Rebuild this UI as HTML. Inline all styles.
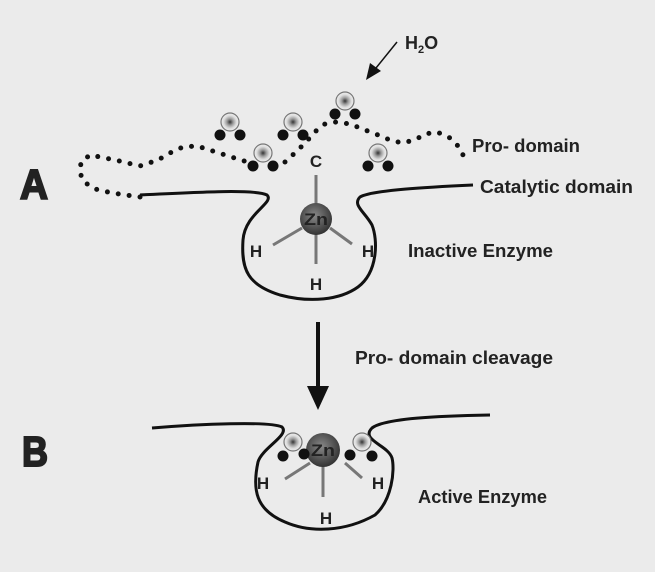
<!DOCTYPE html>
<html><head><style>
html,body{margin:0;padding:0;background:#ebebeb;}
svg{display:block;}
text{font-family:"Liberation Sans Narrow","Liberation Sans",sans-serif;font-weight:bold;fill:#222;}
</style></head><body>
<svg width="655" height="572" viewBox="0 0 655 572" xmlns="http://www.w3.org/2000/svg">
<defs>
<radialGradient id="o" cx="50%" cy="50%" r="50%">
<stop offset="0" stop-color="#333"/><stop offset="0.35" stop-color="#999"/><stop offset="0.7" stop-color="#ddd"/><stop offset="1" stop-color="#eee"/>
</radialGradient>
<radialGradient id="zn" cx="45%" cy="40%" r="60%">
<stop offset="0" stop-color="#888"/><stop offset="1" stop-color="#333"/>
</radialGradient>
<g id="w">
<circle cx="0" cy="0" r="9" fill="url(#o)" stroke="#777" stroke-width="1.2"/>
<circle cx="-10" cy="13" r="5.5" fill="#111"/>
<circle cx="10" cy="13" r="5.5" fill="#111"/>
</g>
</defs>
<polyline fill="none" stroke="#111" stroke-width="5" stroke-linecap="round" stroke-dasharray="0 11"
points="140,197 112,193 95,189 84,182 80,173 81,162 90,155 115,160 140,166 158,160 170,153 183,147 197,146 222,154 244,161 252,163" />
<polyline fill="none" stroke="#111" stroke-width="5" stroke-linecap="round" stroke-dasharray="0 11"
points="285,162 297,151 306,142 316,131 325,124 336,122 350,124 365,130 378,135 390,140 402,143 415,140 425,134 437,132 450,138 460,148 466,162" />
<use href="#w" x="230" y="122"/>
<use href="#w" x="293" y="122"/>
<use href="#w" x="345" y="101"/>
<use href="#w" x="263" y="153"/>
<use href="#w" x="378" y="153"/>
<path d="M140,195 C200,192 255,189 267,195 C275,203 245,213 243,240 C241,270 248,285 280,295 C310,303 340,300 358,287 C378,272 378,240 372,225 C365,212 352,205 360,197 C372,190 430,187 473,185" fill="none" stroke="#111" stroke-width="3"/>
<g stroke="#777" stroke-width="3">
<line x1="316" y1="175" x2="316" y2="205"/>
<line x1="316" y1="230" x2="316" y2="264"/>
<line x1="302" y1="228" x2="273" y2="245"/>
<line x1="330" y1="228" x2="352" y2="244"/>
</g>
<circle cx="316" cy="219" r="16" fill="url(#zn)"/>
<text x="316" y="225" font-size="17" text-anchor="middle" fill="#111" textLength="24" lengthAdjust="spacingAndGlyphs">Zn</text>
<text x="316" y="167" font-size="17" text-anchor="middle">C</text>
<text x="256" y="257" font-size="17" text-anchor="middle">H</text>
<text x="368" y="257" font-size="17" text-anchor="middle">H</text>
<text x="316" y="290" font-size="17" text-anchor="middle">H</text>
<line x1="397" y1="42" x2="376" y2="68" stroke="#111" stroke-width="1.5"/>
<polygon points="366,80 370,63 381,71" fill="#111"/>
<text x="405" y="49" font-size="18">H<tspan font-size="11" dy="4">2</tspan><tspan dy="-4">O</tspan></text>
<text x="472" y="152" font-size="18" textLength="108" lengthAdjust="spacingAndGlyphs">Pro- domain</text>
<text x="480" y="193" font-size="18" textLength="153" lengthAdjust="spacingAndGlyphs">Catalytic domain</text>
<text x="408" y="257" font-size="18" textLength="145" lengthAdjust="spacingAndGlyphs">Inactive Enzyme</text>
<text x="20" y="199" font-size="42" textLength="28" lengthAdjust="spacingAndGlyphs" stroke="#222" stroke-width="2">A</text>
<line x1="318" y1="322" x2="318" y2="390" stroke="#111" stroke-width="4"/>
<polygon points="307,386 329,386 318,410" fill="#111"/>
<text x="355" y="364" font-size="18" textLength="198" lengthAdjust="spacingAndGlyphs">Pro- domain cleavage</text>
<text x="22" y="466" font-size="42" textLength="26" lengthAdjust="spacingAndGlyphs" stroke="#222" stroke-width="2">B</text>
<path d="M152,428 C200,424 270,421 282,427 C290,435 262,448 258,462 C252,490 256,510 285,522 C310,533 345,532 375,515 C392,500 395,470 392,458 C388,445 360,440 372,428 C385,418 440,416 490,415" fill="none" stroke="#111" stroke-width="3"/>
<g stroke="#777" stroke-width="3">
<line x1="323" y1="462" x2="323" y2="497"/>
<line x1="310" y1="463" x2="285" y2="479"/>
<line x1="345" y1="463" x2="362" y2="478"/>
</g>
<circle cx="293" cy="442" r="9" fill="url(#o)" stroke="#777" stroke-width="1.2"/>
<circle cx="362" cy="442" r="9" fill="url(#o)" stroke="#777" stroke-width="1.2"/>
<circle cx="323" cy="450" r="17" fill="url(#zn)"/>
<circle cx="283" cy="456" r="5.5" fill="#111"/>
<circle cx="304" cy="454" r="5.5" fill="#111"/>
<circle cx="350" cy="455" r="5.5" fill="#111"/>
<circle cx="372" cy="456" r="5.5" fill="#111"/>
<text x="323" y="456" font-size="17" text-anchor="middle" fill="#111" textLength="24" lengthAdjust="spacingAndGlyphs">Zn</text>
<text x="263" y="489" font-size="17" text-anchor="middle">H</text>
<text x="378" y="489" font-size="17" text-anchor="middle">H</text>
<text x="326" y="524" font-size="17" text-anchor="middle">H</text>
<text x="418" y="503" font-size="18" textLength="129" lengthAdjust="spacingAndGlyphs">Active Enzyme</text>
</svg>
</body></html>
